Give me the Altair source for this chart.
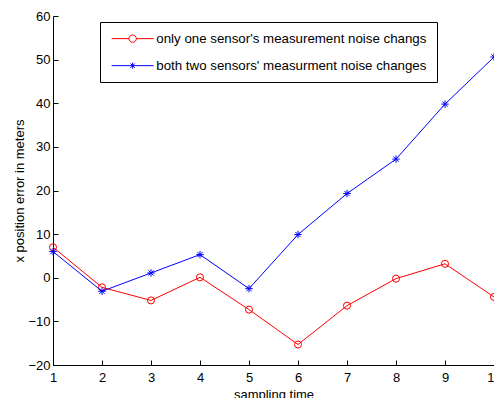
import altair as alt
import pandas as pd

# ---- data ----
steps = [1, 2, 3, 4, 5, 6, 7, 8, 9, 10]
one_sensor = [7.0, -2.2, -5.2, 0.1, -7.3, -15.3, -6.4, -0.2, 3.2, -4.4]
two_sensors = [6.0, -3.1, 1.1, 5.3, -2.5, 9.9, 19.3, 27.2, 39.8, 50.6]
series_names = [
    "only one sensor's measurement noise changs",
    "both two sensors' measurment noise changes",
]
series_colors = ["#ff0000", "#0000ff"]
x_ticks = [1, 2, 3, 4, 5, 6, 7, 8, 9, 10]
y_ticks = [-20, -10, 0, 10, 20, 30, 40, 50, 60]

df = pd.DataFrame({
    "t": steps + steps,
    "err": one_sensor + two_sensors,
    "series": [series_names[0]] * len(steps) + [series_names[1]] * len(steps),
})

FONT = "Liberation Sans"
ASTERISK = "M-1,0H1M0,-1V1M-0.7,-0.7L0.7,0.7M-0.7,0.7L0.7,-0.7"
# legend glyphs: unit = 5px (symbolSize 100)
L = 4.2
r = 0.74
LEG_RED = (f"M{-L},0H{-r}M{r},0H{L}M{-r},0A{r},{r} 0 1,1 {r},0A{r},{r} 0 1,1 {-r},0Z")
a = 0.6
b = 0.42
LEG_BLUE = (f"M{-L},0H{L}M0,{-a}V{a}M{-b},{-b}L{b},{b}M{-b},{b}L{b},{-b}")

xs = alt.Scale(domain=[1, 10], nice=False, zero=False)
ys = alt.Scale(domain=[-20, 60], nice=False, zero=False)
cs = alt.Scale(domain=series_names, range=series_colors)

x_axis = alt.Axis(
    values=x_ticks, format="d", grid=False, title="sampling time",
    tickSize=alt.ExprRef(expr="-5"), labelPadding=11, labelFlush=False,
    domainColor="black", tickColor="black", labelColor="black",
    labelFont=FONT, labelFontSize=13, titleFont=FONT, titleFontSize=13,
    titleFontWeight="normal", titleColor="black", titleY=33,
    titleBaseline="alphabetic",
)
y_axis = alt.Axis(
    values=y_ticks, format="d", grid=False, title="x position error in meters",
    tickSize=alt.ExprRef(expr="-5"), labelPadding=8, labelFlush=False,
    domainColor="black", tickColor="black", labelColor="black",
    labelFont=FONT, labelFontSize=13, titleFont=FONT, titleFontSize=13,
    titleFontWeight="normal", titleColor="black",
    titleX=-30, titleY=174.5, titleBaseline="alphabetic",
)

X = alt.X("t:Q", scale=xs, axis=x_axis)
Y = alt.Y("err:Q", scale=ys, axis=y_axis)


def series_layers(name, color, shape, size):
    base = alt.Chart(df).transform_filter(alt.datum.series == name)
    ln = base.mark_line(strokeWidth=1, color=color).encode(x=X, y=Y)
    pt = base.mark_point(shape=shape, size=size, filled=False, strokeWidth=1,
                         color=color, opacity=1).encode(x=X, y=Y)
    return [ln, pt]


red = series_layers(series_names[0], series_colors[0], "circle", 50)
blue = series_layers(series_names[1], series_colors[1], ASTERISK, 56)

leg = alt.Legend(
    title=None, orient="none", legendX=47, legendY=6,
    strokeColor="black", fillColor="white", padding=10, rowPadding=13,
    symbolSize=100, symbolStrokeWidth=1, symbolOffset=16, labelOffset=17,
    labelLimit=0,
    labelFont=FONT, labelFontSize=13.3, labelColor="black", cornerRadius=0,
)
legend_layer = alt.Chart(df).transform_filter("false").mark_point(
    filled=False, strokeWidth=1, opacity=1
).encode(
    x=X, y=Y,
    color=alt.Color("series:N", scale=cs, legend=leg),
    shape=alt.Shape("series:N", scale=alt.Scale(domain=series_names, range=[LEG_RED, LEG_BLUE]), legend=leg),
)

chart = alt.layer(*red, *blue, legend_layer).properties(
    width=441, height=349,
    autosize=alt.AutoSizeParams(type="none"),
    padding={"left": 45, "top": 8, "right": 0, "bottom": 33},
).configure_view(stroke=None)

chart.save("out.html", embed_options={"renderer": "svg", "actions": False})
